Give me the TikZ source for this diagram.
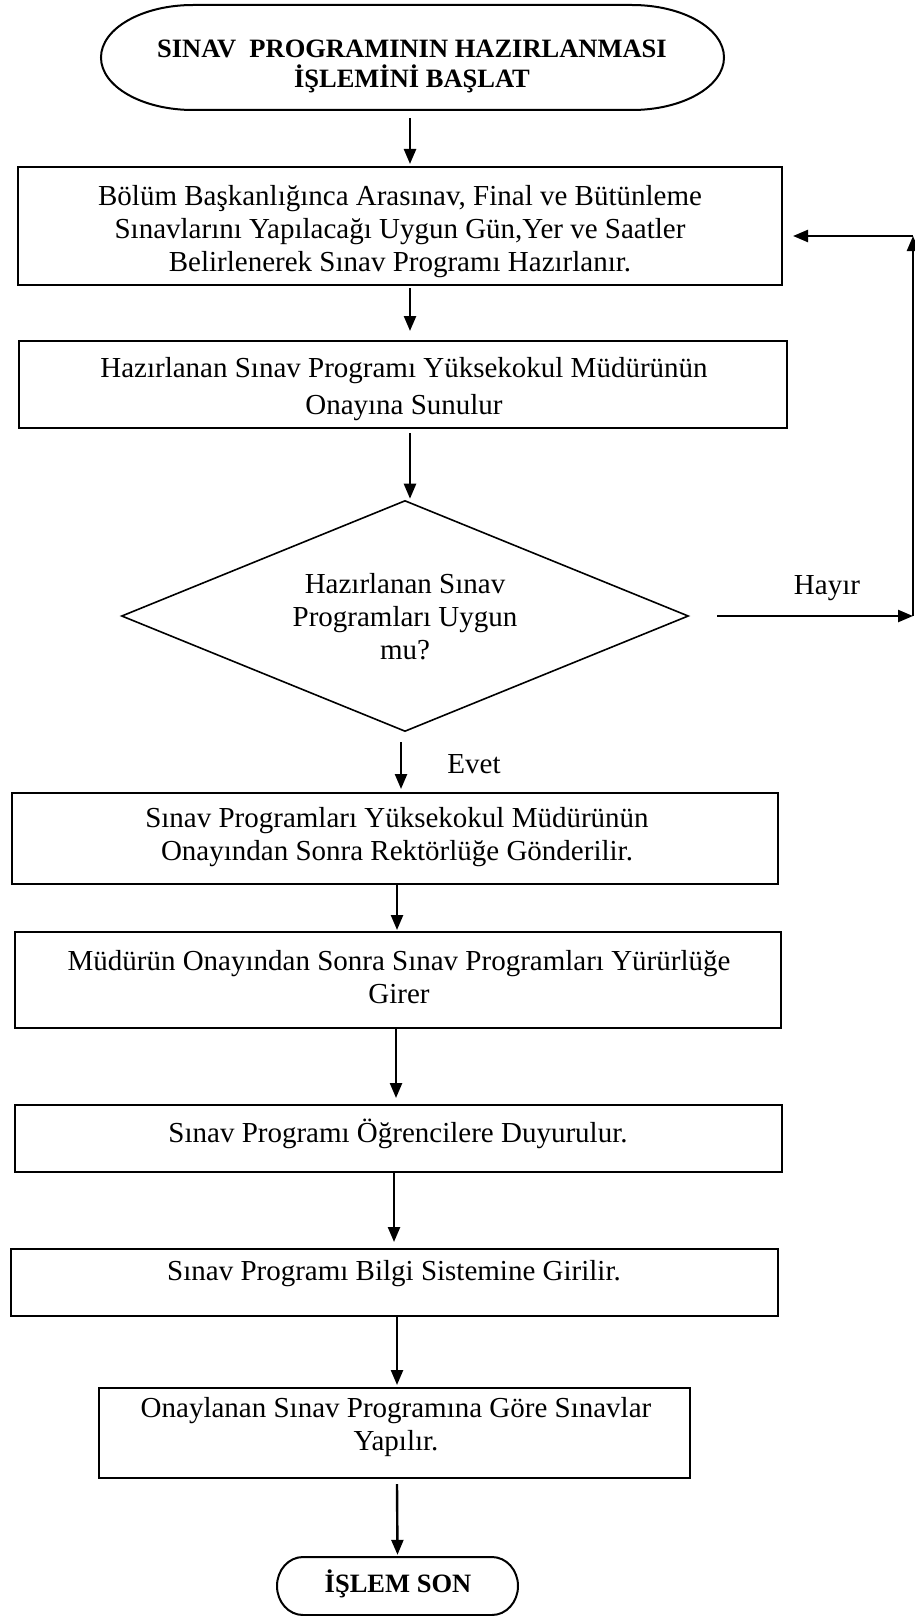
\documentclass[tikz,border=0pt]{standalone}
\usepackage{fontspec}
\setmainfont{Liberation Serif}
\usetikzlibrary{shapes.geometric,arrows.meta,calc}
\begin{document}
\begin{tikzpicture}[x=1pt,y=-1pt,
  outline/.style={line width=2pt},
  procbox/.style={draw, line width=2pt, rectangle, inner sep=0pt},
  decbox/.style={draw, line width=1.6pt, diamond, inner sep=0pt},
  txt/.style={align=center, inner sep=0pt, font=\fontsize{29}{33}\selectfont},
  btxt/.style={align=center, inner sep=0pt, font=\fontsize{26.5}{30}\selectfont\bfseries},
  arr/.style={line width=2.4pt, -{Triangle[length=15pt,width=12pt]}},
]
\useasboundingbox (0,0) rectangle (915,1616);

% start terminator
\node[inner sep=0pt, minimum width=623pt, minimum height=105pt] (start) at (412.5,57.5) {};
\draw[outline] (193,5) -- (632,5) .. controls (682.8,5) and (724,28.5) .. (724,57.5)
  .. controls (724,86.5) and (682.8,110) .. (632,110) -- (193,110)
  .. controls (142.2,110) and (101,86.5) .. (101,57.5)
  .. controls (101,28.5) and (142.2,5) .. (193,5) -- cycle;
\node[btxt] (tstart) at (412,66) {SINAV\ \ PROGRAMININ HAZIRLANMASI\\İŞLEMİNİ BAŞLAT};

% process boxes
\node[procbox, minimum width=764pt, minimum height=118pt] (b1) at (400,226) {};
\node[txt] (t1) at (400,232) {Bölüm Başkanlığınca Arasınav, Final ve Bütünleme\\Sınavlarını Yapılacağı Uygun Gün,Yer ve Saatler\\Belirlenerek Sınav Programı Hazırlanır.};

\node[procbox, minimum width=768pt, minimum height=87pt] (b2) at (403,384.5) {};
\node[txt] (t2) at (404,389) {Hazırlanan Sınav Programı Yüksekokul Müdürünün\\[4pt]Onayına Sunulur};

\node[decbox, minimum width=567pt, minimum height=231pt] (dia) at (405,616) {};
\node[txt] (tdia) at (405,617) {Hazırlanan Sınav\\Programları Uygun\\mu?};

\node[procbox, minimum width=766pt, minimum height=91pt] (b3) at (395,838.5) {};
\node[txt] (t3) at (397,837) {Sınav Programları Yüksekokul Müdürünün\\Onayından Sonra Rektörlüğe Gönderilir.};

\node[procbox, minimum width=766pt, minimum height=96pt] (b4) at (398,980) {};
\node[txt] (t4) at (399,977) {Müdürün Onayından Sonra Sınav Programları Yürürlüğe\\Girer};

\node[procbox, minimum width=767pt, minimum height=67pt] (b5) at (398.5,1138.5) {};
\node[txt] (t5) at (398,1134) {Sınav Programı Öğrencilere Duyurulur.};

\node[procbox, minimum width=767pt, minimum height=67pt] (b6) at (394.5,1282.5) {};
\node[txt] (t6) at (394,1274) {Sınav Programı Bilgi Sistemine Girilir.};

\node[procbox, minimum width=591pt, minimum height=90pt] (b7) at (394.5,1433) {};
\node[txt] (t7) at (396,1427) {Onaylanan Sınav Programına Göre Sınavlar\\Yapılır.};

% end terminator
\node[inner sep=0pt, minimum width=241pt, minimum height=58pt] (stop) at (397.5,1586) {};
\draw[outline] (303,1557) -- (492,1557) .. controls (506.4,1557) and (518,1570) .. (518,1586)
  .. controls (518,1602) and (506.4,1615) .. (492,1615) -- (303,1615)
  .. controls (288.6,1615) and (277,1602) .. (277,1586)
  .. controls (277,1570) and (288.6,1557) .. (303,1557) -- cycle;
\node[btxt] (tstop) at (398,1584) {İŞLEM SON};

% labels
\node[txt] (hayir) at (827,588) {Hayır};
\node[txt] (evet) at (474,764) {Evet};

% connectors
\draw[arr] ($(start.south)+(-2.5,8)$) -- ($(b1.north)+(10,-2)$);
\draw[arr] ($(b1.south)+(10,2)$) -- ($(b2.north)+(7,-9)$);
\draw[arr] ($(b2.south)+(7,4)$) -- ($(dia.north)+(5,-1)$);
\draw[arr] ($(dia.south)+(-4,10)$) -- ($(b3.north)+(6,-3)$);
\draw[arr] ($(b3.south)+(2,0)$) -- ($(b4.north)+(-1,-1)$);
\draw[arr] ($(b4.south)+(-2,0)$) -- ($(b5.north)+(-2.5,-6)$);
\draw[arr] ($(b5.south)+(-4.5,0)$) -- ($(b6.north)+(-0.5,-6)$);
\draw[arr] ($(b6.south)+(2.5,0)$) -- ($(b7.north)+(2.5,-2)$);
\draw[arr] ($(b7.south)+(2.5,5)$) -- ($(stop.north)+(0,-2)$);

% loop back (Hayir)
\coordinate (c1) at (913,616);
\coordinate (c2) at (913,236);
\draw[arr] ($(dia.east)+(28,0)$) -- (c1);
\draw[arr] (c1) -- (c2);
\draw[arr] (c2) -- ($(b1.east)+(10,10)$);
\end{tikzpicture}
\end{document}
